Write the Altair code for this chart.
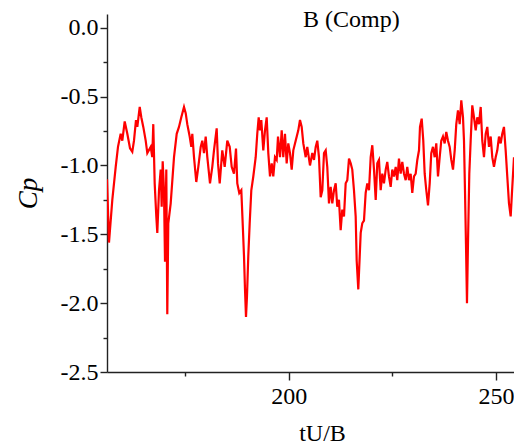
import altair as alt
import pandas as pd

# Pressure coefficient record, face B (Comp), split into four stretches of time
t_a = [156.2, 156.68, 157.48, 158.30, 158.85, 159.50, 159.89, 160.47, 161.10, 161.75,
       162.30, 162.71, 163.19, 163.51, 164.09, 164.47, 164.95, 165.53, 165.92, 166.74,
       167.12, 167.36, 167.70, 168.09, 168.33, 168.74, 169.15, 169.39, 169.63, 169.94,
       170.19, 170.50, 170.74, 170.98, 171.56, 172.36, 173.01, 173.56, 174.12, 174.77,
       175.18, 175.56, 176.14, 176.53, 176.77, 177.18, 177.73, 178.22, 178.80, 179.18,
       179.59, 180.00, 180.39, 180.80]
cp_a = [-1.10, -1.56, -1.25, -1.01, -0.865, -0.77, -0.82, -0.68, -0.77, -0.875,
        -0.90, -0.82, -0.67, -0.72, -0.575, -0.65, -0.72, -0.82, -0.91, -0.865,
        -0.94, -0.70, -1.13, -1.37, -1.49, -1.18, -1.03, -1.30, -0.97, -1.18,
        -1.70, -1.03, -2.08, -1.42, -1.275, -0.94, -0.77, -0.72, -0.65, -0.575,
        -0.62, -0.70, -0.79, -0.865, -0.77, -0.94, -1.12, -1.01, -0.865, -0.82,
        -0.91, -0.79, -0.94, -1.06]

t_b = [181.04, 181.59, 182.00, 182.65, 182.97, 183.38, 184.00, 184.58, 185.21, 185.79,
       186.27, 186.82, 187.31, 187.62, 188.10, 188.59, 188.99, 189.24, 189.48, 189.72,
       189.96, 190.27, 190.61, 191.00, 191.48, 192.06, 192.44, 192.78, 193.09, 193.41,
       193.89, 194.30, 194.71, 195.10, 195.51, 195.92, 196.30, 196.71, 197.12, 197.44,
       197.92, 198.33, 198.71, 199.12, 199.53, 199.92, 200.33, 200.74, 201.13, 201.70,
       202.33, 202.74, 203.15, 203.54, 204.12, 204.50]
cp_b = [-1.13, -1.01, -0.89, -0.73, -0.985, -1.13, -0.89, -1.01, -0.82, -0.865,
        -1.01, -1.06, -0.877, -1.13, -1.20, -1.18, -1.47, -1.66, -1.90, -2.10,
        -1.95, -1.66, -1.42, -1.18, -1.08, -0.94, -0.77, -0.65, -0.745, -0.67,
        -0.89, -0.745, -0.65, -0.91, -1.08, -0.985, -1.08, -0.94, -0.96, -0.79,
        -0.94, -0.745, -0.94, -0.77, -0.985, -0.84, -0.91, -1.03, -0.89, -0.82,
        -0.745, -0.67, -0.72, -0.84, -0.94, -0.865]

t_c = [205.15, 205.71, 206.12, 206.53, 206.91, 207.32, 207.73, 208.12, 208.53, 208.94,
       209.32, 209.73, 210.14, 210.53, 210.94, 211.35, 211.73, 212.14, 212.55, 212.94,
       213.35, 213.76, 214.15, 214.56, 214.97, 215.35, 215.76, 216.17, 216.41, 216.80,
       217.14, 217.38, 217.76, 218.17, 218.58, 218.97, 219.38, 219.79, 220.18, 220.59,
       221.00, 221.38, 221.79, 222.20, 222.59, 222.99, 223.41, 223.79, 224.20, 224.61,
       225.00, 225.41, 225.82, 226.20, 226.61, 227.02, 227.41, 227.82]
cp_c = [-1.00, -0.91, -0.96, -0.865, -0.82, -0.94, -1.23, -1.18, -0.91, -0.89,
        -1.01, -1.275, -1.155, -1.275, -1.18, -1.13, -1.30, -1.25, -1.47, -1.32,
        -1.37, -1.13, -1.107, -0.95, -0.985, -1.03, -1.18, -1.37, -1.69, -1.90,
        -1.66, -1.49, -1.42, -1.40, -1.20, -1.13, -1.18, -0.94, -0.853, -1.03,
        -1.25, -0.985, -0.96, -1.18, -1.06, -1.13, -1.03, -0.974, -1.08, -1.155,
        -1.03, -1.08, -1.01, -1.107, -0.95, -1.06, -0.974, -1.06]

t_d = [228.23, 228.61, 229.02, 229.43, 229.82, 230.23, 230.64, 231.03, 231.44, 231.68,
       232.09, 232.47, 232.81, 233.20, 233.61, 234.02, 234.40, 234.81, 235.22, 235.61,
       236.02, 236.43, 236.81, 237.22, 237.63, 238.02, 238.43, 238.84, 239.23, 239.64,
       240.05, 240.43, 240.84, 241.25, 241.64, 242.05, 242.29, 242.53, 242.77, 243.01,
       243.25, 243.57, 243.90, 244.29, 244.70, 245.11, 245.50, 245.91, 246.32, 246.70,
       247.11, 247.52, 247.91, 248.32, 248.73, 249.11, 249.52, 249.93, 250.32, 250.73,
       251.14, 251.52, 251.93, 252.34, 252.73, 253.14, 253.55, 253.94, 254.35]
cp_d = [-1.107, -1.01, -1.107, -1.06, -1.20, -1.08, -1.06, -0.96, -0.89, -0.72,
        -0.66, -0.82, -1.06, -1.18, -1.29, -1.13, -0.91, -0.865, -0.94, -0.84,
        -1.08, -0.94, -0.82, -0.79, -0.84, -0.757, -0.82, -0.865, -0.96, -1.03,
        -0.89, -0.70, -0.60, -0.70, -0.527, -0.65, -0.82, -1.18, -1.57, -2.00,
        -1.57, -1.06, -0.82, -0.563, -0.65, -0.745, -0.65, -0.70, -0.575, -0.82,
        -0.94, -0.77, -0.72, -0.865, -0.79, -0.94, -1.01, -0.94, -0.89, -0.79,
        -0.84, -0.77, -0.72, -0.89, -1.08, -1.275, -1.37, -1.155, -0.94]

panel_label = ["B (Comp)"]

x_ticks = [175, 200, 225, 250]
y_ticks = [-2.5, -2.25, -2.0, -1.75, -1.5, -1.25, -1.0, -0.75, -0.5, -0.25, 0.0]

series = pd.concat([
    pd.DataFrame({"t": t_a, "cp": cp_a}),
    pd.DataFrame({"t": t_b, "cp": cp_b}),
    pd.DataFrame({"t": t_c, "cp": cp_c}),
    pd.DataFrame({"t": t_d, "cp": cp_d}),
], ignore_index=True)

serif = "Liberation Serif, Times New Roman, serif"
ink = "#222222"

x_major = "datum.value % 50 == 0"
y_major = "abs(round(datum.value * 4)) % 2 == 0"

line = alt.Chart(series).mark_line(
    color="#ff0000", strokeWidth=2.2, strokeJoin="miter", clip=True
).encode(
    x=alt.X(
        "t:Q",
        scale=alt.Scale(domain=[156.2, 254.35], nice=False, zero=False),
        axis=alt.Axis(
            values=x_ticks,
            labelExpr=f"{x_major} ? datum.label : ''",
            tickSize={"condition": {"test": x_major, "value": 8}, "value": 4},
            labelPadding=4,
            labelFont=serif,
            labelFontSize=24,
            title="tU/B",
            titleFont=serif,
            titleFontSize=24,
            titleX=215,
            titleY=68,
            titleAlign="center",
            titleBaseline="alphabetic",
        ),
    ),
    y=alt.Y(
        "cp:Q",
        scale=alt.Scale(domain=[-2.5, 0.1], nice=False, zero=False),
        axis=alt.Axis(
            values=y_ticks,
            labelExpr=f"{y_major} ? (datum.value < 0 ? '-' : '') + format(abs(datum.value), '.1f') : ''",
            tickSize={"condition": {"test": y_major, "value": 7}, "value": 4},
            labelPadding=2,
            labelFont=serif,
            labelFontSize=24,
            title="Cp",
            titleFont=serif,
            titleFontSize=27,
            titleFontStyle="italic",
            titleAngle=270,
            titleX=-79,
            titleY=179,
            titleAlign="center",
            titleBaseline="middle",
        ),
    ),
)

label = alt.Chart(pd.DataFrame({"name": panel_label})).mark_text(
    font=serif, fontSize=24, align="left", baseline="alphabetic", color="black"
).encode(
    x=alt.value(196),
    y=alt.value(12.7),
    text="name:N",
)

chart = alt.layer(line, label).properties(
    width=407,
    height=358,
    padding={"left": 107, "top": 14, "right": 0, "bottom": 74},
    autosize=alt.AutoSizeParams(type="none"),
    background="white",
).configure_view(
    stroke=None,
).configure_axis(
    grid=False,
    domainColor=ink,
    domainWidth=1.4,
    tickColor=ink,
    tickWidth=1.4,
    labelColor="black",
    titleColor="black",
    titleFontWeight="normal",
    labelOverlap=False,
)

chart.save("out.html", embed_options={"renderer": "svg", "actions": False})
